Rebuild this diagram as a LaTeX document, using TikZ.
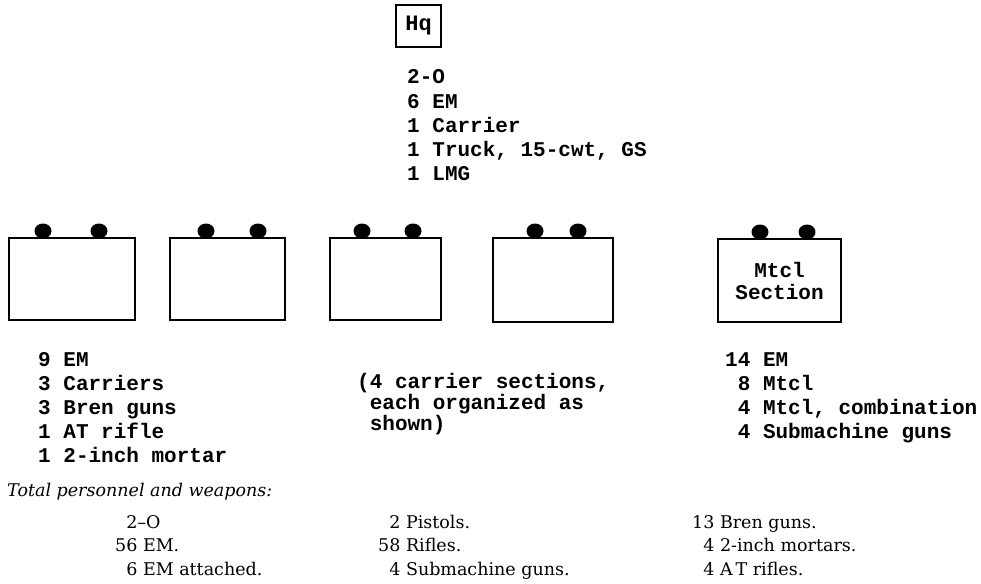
\documentclass[tikz,border=0pt]{standalone}
\usepackage{fontspec}
\newfontfamily\twfont{Liberation Mono}
\newfontfamily\rmfont{DejaVu Serif}
\tikzset{
  tw/.style={font=\twfont\bfseries\fontsize{21}{24}\selectfont, inner sep=0pt, anchor=base west},
  rmtext/.style={font=\rmfont\fontsize{17.5}{22}\selectfont, inner sep=0pt, anchor=base west},
  secbox/.style={draw, line width=2pt, inner sep=0pt},
  bumpshape/.style={fill=black}
}
\begin{document}
\begin{tikzpicture}[x=1pt, y=-1pt]
\useasboundingbox (0,0) rectangle (981,583);
\fill[white] (0,0) rectangle (981,583);

% Headquarters
\node[draw, line width=2.6pt, minimum width=45pt, minimum height=42pt, inner sep=0pt,
      font=\twfont\bfseries\fontsize{22}{24}\selectfont] (hq) at (418.5,26) {Hq};
\node[tw] (hq1) at (407,84) {2-O};
\node[tw] (hq2) at (407,108) {6 EM};
\node[tw] (hq3) at (407,132) {1 Carrier};
\node[tw] (hq4) at (407,156) {1 Truck, 15-cwt, GS};
\node[tw] (hq5) at (407,180) {1 LMG};

% Section boxes
\node[secbox, minimum width=126pt, minimum height=82pt] (s1) at (72,279) {};
\node[secbox, minimum width=115pt, minimum height=82pt] (s2) at (227.5,279) {};
\node[secbox, minimum width=111pt, minimum height=82pt] (s3) at (385.5,279) {};
\node[secbox, minimum width=120pt, minimum height=84pt] (s4) at (553,280) {};
\node[secbox, minimum width=123pt, minimum height=83pt, align=center,
      font=\twfont\bfseries\fontsize{21}{22}\selectfont] (s5) at (779.5,280.5) {Mtcl\\Section};

% bumps on top of the boxes
\foreach \bx in {43,99,206,258,362,413,535,578}
  \fill[bumpshape] (\bx,231) ellipse [x radius=8.5pt, y radius=7.5pt];
\foreach \bx in {760,807}
  \fill[bumpshape] (\bx,232) ellipse [x radius=8.5pt, y radius=7.5pt];

% carrier section
\node[tw] (c1) at (38,366) {9 EM};
\node[tw] (c2) at (38,390) {3 Carriers};
\node[tw] (c3) at (38,414) {3 Bren guns};
\node[tw] (c4) at (38,438) {1 AT rifle};
\node[tw] (c5) at (38,462) {1 2-inch mortar};

% note
\node[tw] (n1) at (357,388) {(4 carrier sections,};
\node[tw] (n2) at (357,409) {\hphantom{(}each organized as};
\node[tw] (n3) at (357,430) {\hphantom{(}shown)};

% motorcycle section
\node[tw] (m1) at (725,366) {14 EM};
\node[tw] (m2) at (725,390) {\hphantom{1}8 Mtcl};
\node[tw] (m3) at (725,414) {\hphantom{1}4 Mtcl, combination};
\node[tw] (m4) at (725,438) {\hphantom{1}4 Submachine guns};

% totals
\node[rmtext, font=\rmfont\itshape\fontsize{17.5}{22}\selectfont] (tot) at (7,496) {Total personnel and weapons:};
\node[rmtext] (t1) at (115,528) {\hphantom{5}2–O};
\node[rmtext] (t2) at (115,551) {56 EM.};
\node[rmtext] (t3) at (115,575) {\hphantom{5}6 EM attached.};
\node[rmtext] (t4) at (378,528) {\hphantom{5}2 Pistols.};
\node[rmtext] (t5) at (378,551) {58 Rifles.};
\node[rmtext] (t6) at (378,575) {\hphantom{5}4 Submachine guns.};
\node[rmtext] (t7) at (692,528) {13 Bren guns.};
\node[rmtext] (t8) at (692,551) {\hphantom{1}4 2-inch mortars.};
\node[rmtext] (t9) at (692,575) {\hphantom{1}4 A\,T rifles.};
\end{tikzpicture}
\end{document}
